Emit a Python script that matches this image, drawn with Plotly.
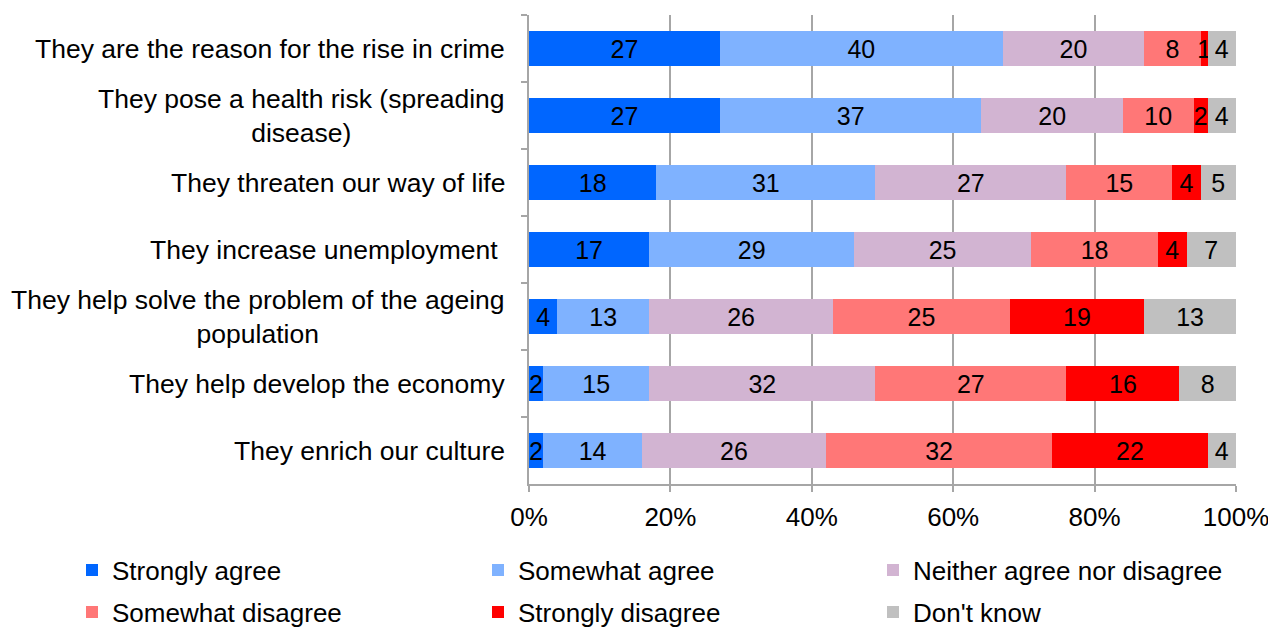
import plotly.graph_objects as go

categories = [
    "They are the reason for the rise in crime",
    "They pose a health risk (spreading<br>disease)",
    "They threaten our way of life",
    "They increase unemployment ",
    "They help solve the problem of the ageing<br>population",
    "They help develop the economy",
    "They enrich our culture",
]
series_names = ["Strongly agree", "Somewhat agree", "Neither agree nor disagree",
                "Somewhat disagree", "Strongly disagree", "Don't know"]
strongly_agree = [27, 27, 18, 17, 4, 2, 2]
somewhat_agree = [40, 37, 31, 29, 13, 15, 14]
neither = [20, 20, 27, 25, 26, 32, 26]
somewhat_disagree = [8, 10, 15, 18, 25, 27, 32]
strongly_disagree = [1, 2, 4, 4, 19, 16, 22]
dont_know = [4, 4, 5, 7, 13, 8, 4]
x_ticks = [0, 20, 40, 60, 80, 100]
x_tick_labels = ["0%", "20%", "40%", "60%", "80%", "100%"]

values = [strongly_agree, somewhat_agree, neither, somewhat_disagree, strongly_disagree, dont_know]
colors = ["#0066FF", "#7FB2FF", "#D2B4D2", "#FF7777", "#FF0000", "#C0C0C0"]

FONT = "Liberation Sans, Arial, sans-serif"
W, H = 1268, 620  # page body adds an 8px offset
legend_names = ["legend", "legend2", "legend3", "legend4", "legend5", "legend6"]
legend_x = [64, 470, 865, 64, 470, 865]
legend_y = [562, 562, 562, 604, 604, 604]

fig = go.Figure()
for i, (name, vals, col) in enumerate(zip(series_names, values, colors)):
    fig.add_trace(go.Bar(
        name=name, y=categories, x=vals, orientation="h",
        marker=dict(color=col, line=dict(width=0)),
        text=[str(v) for v in vals], textposition="inside",
        insidetextanchor="middle", constraintext="none",
        textfont=dict(color="black", size=25, family=FONT),
        legend=legend_names[i], showlegend=True,
        hoverinfo="skip",
    ))

for c in categories:
    fig.add_annotation(x=0, xref="paper", y=c, yref="y", text=c,
                       xanchor="right", yanchor="middle", align="center",
                       xshift=-22, showarrow=False,
                       font=dict(size=26.5, family=FONT, color="black"))

legend_layout = {}
for i, ln in enumerate(legend_names):
    legend_layout[ln] = dict(
        orientation="h", xref="container", yref="container",
        x=legend_x[i] / W, y=1 - legend_y[i] / H, yanchor="middle", xanchor="left",
        font=dict(size=26, family=FONT, color="black"), bgcolor="rgba(0,0,0,0)")

fig.update_layout(
    showlegend=True,
    barmode="stack", bargap=0.49,
    width=W, height=H,
    margin=dict(l=521, r=33.5, t=7, b=144, pad=0),
    plot_bgcolor="white", paper_bgcolor="white",
    font=dict(family=FONT, size=26, color="black"),
    uniformtext=dict(minsize=25, mode="show"),
    xaxis=dict(range=[0, 100], tickvals=x_ticks, ticktext=x_tick_labels,
               showgrid=True, gridcolor="#A6A6A6", gridwidth=1.5,
               zeroline=False, showline=True, linecolor="#A6A6A6", linewidth=1.5,
               ticks="outside", ticklen=6, tickcolor="#A6A6A6", tickwidth=1.5,
               ticklabelstandoff=3, ticklabeloverflow="allow",
               tickfont=dict(size=26, family=FONT)),
    yaxis=dict(autorange="reversed", showticklabels=False,
               showline=True, linecolor="#A6A6A6", linewidth=1.5,
               ticks="outside", tickson="boundaries", ticklen=6, tickcolor="#A6A6A6",
               tickwidth=1.5, showgrid=False),
    **legend_layout,
)
fig.write_html("out.html")
